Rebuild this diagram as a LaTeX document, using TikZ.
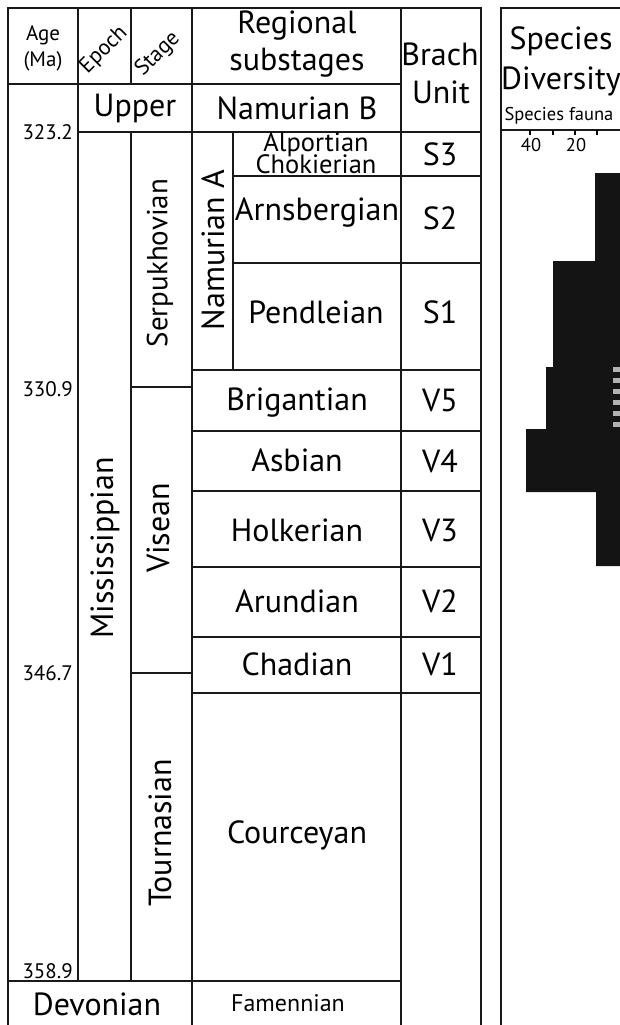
\documentclass[tikz,border=0pt]{standalone}
\usepackage{fontspec}
\setmainfont{PT Sans}
\begin{document}
\begin{tikzpicture}[x=1pt,y=-1pt,
  grid/.style={line width=2pt, line cap=rect, black!90},
  big/.style={font=\fontsize{32}{33}\selectfont, inner sep=0pt},
  mid/.style={font=\fontsize{26.5}{26.5}\selectfont, inner sep=0pt},
  small/.style={font=\fontsize{21}{21}\selectfont, inner sep=0pt},
  tiny/.style={font=\fontsize{18.5}{18.5}\selectfont, inner sep=0pt},
  bar/.style={fill=black!92, draw=none},
  greymark/.style={fill=black!30, draw=none}]
\useasboundingbox (0,0) rectangle (620,1025);
\clip (0,0) rectangle (620,1025);
% ---------- main table lines ----------
\draw[grid] (8,8) -- (8,1030);
\draw[grid] (78,8) -- (78,981);
\draw[grid] (131,8) -- (131,84);
\draw[grid] (131,132) -- (131,981);
\draw[grid] (192,8) -- (192,1030);
\draw[grid] (233,132) -- (233,370);
\draw[grid] (401,8) -- (401,1030);
\draw[grid] (481,8) -- (481,1030);
\draw[grid] (8,8) -- (481,8);
\draw[grid] (8,84) -- (401,84);
\draw[grid] (78,132) -- (481,132);
\draw[grid] (233,176) -- (481,176);
\draw[grid] (233,263) -- (481,263);
\draw[grid] (192,370) -- (481,370);
\draw[grid] (131,387) -- (192,387);
\draw[grid] (192,431) -- (481,431);
\draw[grid] (192,491) -- (481,491);
\draw[grid] (192,567) -- (481,567);
\draw[grid] (192,637) -- (481,637);
\draw[grid] (131,673) -- (192,673);
\draw[grid] (192,693) -- (481,693);
\draw[grid] (8,981) -- (401,981);
% ---------- species diversity box ----------
\draw[grid] (501,8) -- (501,1030);
\draw[grid] (501,8) -- (630,8);
\draw[grid] (501,130) -- (630,130);
\foreach \tx in {530,553,575,597} \draw[line width=2pt] (\tx,130) -- (\tx,135);
% bars
\fill[bar] (595,173) -- (630,173) -- (630,566) -- (596,566) -- (596,492) -- (526,492)
  -- (526,429) -- (546,429) -- (546,367) -- (553,367) -- (553,261) -- (595,261) -- cycle;
\foreach \dy in {367,378,389,400,411,422} \fill[greymark] (613,\dy) rectangle (621,\dy+5);
% ---------- header texts ----------
\node[small] (age) at (43,35) {Age};
\node[small] (ma) at (43,61) {(Ma)};
\node[small, rotate=45, font=\fontsize{22}{22}\selectfont] (epoch) at (104,50) {Epoch};
\node[small, rotate=45, font=\fontsize{22}{22}\selectfont] (stage) at (158,54) {Stage};
\node[big] (reg1) at (297,26) {Regional};
\node[big] (reg2) at (297,63) {substages};
\node[big] (brach) at (440,54) {Brach};
\node[big] (unit) at (441,92) {Unit};
\node[big] (spec1) at (561,41) {Species};
\node[big] (spec2) at (561,81) {Diversity};
\node[tiny] (fauna) at (559,116) {Species fauna};
\node[tiny] (t40) at (531,145) {40};
\node[tiny] (t20) at (576,145) {20};
% ---------- ages ----------
\node[small, anchor=east] (a1) at (73,132) {323.2};
\node[small, anchor=east] (a2) at (73,389) {330.9};
\node[small, anchor=east] (a3) at (73,673) {346.7};
\node[small, anchor=east] (a4) at (73,971) {358.9};
% ---------- epochs / stages ----------
\node[big] (upper) at (135,108) {Upper};
\node[big, rotate=90] (miss) at (105,548) {Mississippian};
\node[big, rotate=90, font=\fontsize{29}{30}\selectfont] (serp) at (160,263) {Serpukhovian};
\node[big, rotate=90] (vis) at (158,528) {Visean};
\node[big, rotate=90] (tour) at (160,833) {Tournasian};
\node[big] (devon) at (97,1004) {Devonian};
% ---------- regional substages ----------
\node[big] (namb) at (297,108) {Namurian B};
\node[big, rotate=90] (nama) at (213,250) {Namurian A};
\node[mid] (alp) at (316,145) {Alportian};
\node[mid] (cho) at (316,164) {Chokierian};
\node[big] (arn) at (317,213) {Arnsbergian};
\node[big] (pen) at (316,312) {Pendleian};
\node[big] (bri) at (297,403) {Brigantian};
\node[big] (asb) at (297,460) {Asbian};
\node[big] (hol) at (297,530) {Holkerian};
\node[big] (aru) at (297,601) {Arundian};
\node[big] (cha) at (297,664) {Chadian};
\node[big] (cou) at (297,835) {Courceyan};
\node[mid, font=\fontsize{24}{24}\selectfont] (fam) at (288,1003) {Famennian};
% ---------- brach units ----------
\node[big] (s3) at (440,154) {S3};
\node[big] (s2) at (440,218) {S2};
\node[big] (s1) at (440,312) {S1};
\node[big] (v5) at (440,400) {V5};
\node[big] (v4) at (440,461) {V4};
\node[big] (v3) at (440,530) {V3};
\node[big] (v2) at (440,601) {V2};
\node[big] (v1) at (440,664) {V1};
\end{tikzpicture}
\end{document}
